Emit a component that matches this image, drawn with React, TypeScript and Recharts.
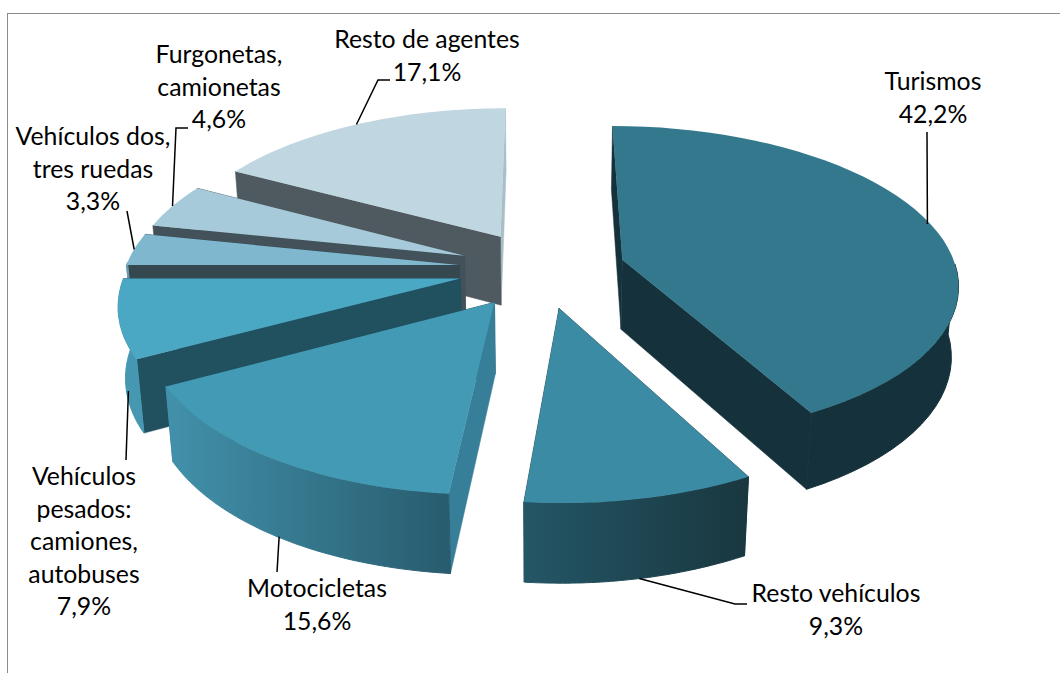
import React from "react";
import { PieChart, Pie } from "recharts";

// Data (listed back-to-front so later slices paint over earlier ones)
const CATEGORIES = ["Resto de agentes", "Furgonetas, camionetas", "Vehículos dos, tres ruedas", "Vehículos pesados: camiones, autobuses", "Motocicletas", "Resto vehículos", "Turismos"];
const VALUES = [17.1, 4.6, 3.3, 7.9, 15.6, 9.3, 42.2];
const LABEL_LINES = [
  ["Resto de agentes"],
  ["Furgonetas,", "camionetas"],
  ["Vehículos dos,", "tres ruedas"],
  ["Vehículos", "pesados:", "camiones,", "autobuses"],
  ["Motocicletas"],
  ["Resto vehículos"],
  ["Turismos"],
];
const DATA = CATEGORIES.map((name, i) => ({ name, value: VALUES[i] }));

// Styles
const TOP = ["#C0D7E2", "#A6CADA", "#7FB8CE", "#4AA8C5", "#429AB5", "#3C8BA5", "#33788C"];
const WALL_START = ["#A9BEC8", "#43525A", "#36484F", "#21505F", "#21505F", "#19373F", "#15323C"];
const WALL_END = ["#4F5A60", "#43525A", "#36484F", "#21505F", "#377F98", "#19373F", "#15323C"];
const OUTER_LEFT = ["#A9BEC8", "#8AA8B6", "#6A9CB0", "#4597B2", "#4291AB", "#245666", "#15323C"];
const OUTER_RIGHT = ["#A9BEC8", "#8AA8B6", "#6A9CB0", "#4597B2", "#285C6E", "#19373F", "#15323C"];

// Projection settings
const CX = 542, CY = 269, RX = 334, Y_RATIO = 0.464, PERSPECTIVE = 0.141, EXPLODE = 0.25;
const WALL = 70, NADIR = 4100;
const RAD = Math.PI / 180;

function project(angle: number, mid: number, r: number, cx: number, cy: number, rx: number) {
  const wx = EXPLODE * Math.cos(mid * RAD) + r * Math.cos(angle * RAD);
  const wy = -EXPLODE * Math.sin(mid * RAD) - r * Math.sin(angle * RAD);
  const s = 1 / (1 - PERSPECTIVE * wy);
  const x = cx + rx * wx * s;
  const y = cy + rx * Y_RATIO * wy * s;
  const h = WALL * Math.pow(s, 0.7);
  return { x, y, bx: x + ((cx - x) * h) / NADIR, by: y + h };
}
const toPath = (pts: number[][]) => pts.map((p, i) => `${i ? "L" : "M"}${p[0].toFixed(1)},${p[1].toFixed(1)}`).join(" ") + " Z";

function Slice3D(props: any) {
  const { cx, cy, outerRadius, startAngle, endAngle, midAngle, name } = props;
  const i = CATEGORIES.indexOf(name);
  const n = 48;
  const angles = Array.from({ length: n + 1 }, (_, k) => startAngle + ((endAngle - startAngle) * k) / n);
  const arc = angles.map((a) => project(a, midAngle, 1, cx, cy, outerRadius));
  const front = angles.filter((a) => Math.sin(a * RAD) <= 0.02).map((a) => project(a, midAngle, 1, cx, cy, outerRadius));
  const apex = project(midAngle, midAngle, 0, cx, cy, outerRadius);
  const first = arc[0], last = arc[n];
  const top = [[apex.x, apex.y], ...arc.map((p) => [p.x, p.y])];
  const outer = [...front.map((p) => [p.x, p.y]), ...[...front].reverse().map((p) => [p.bx, p.by])];
  const xs = (front.length ? front : arc).map((p) => p.x);
  const gid = `outer-${i}`;
  const flat = OUTER_LEFT[i] === OUTER_RIGHT[i];
  const outerPaint = flat ? OUTER_LEFT[i] : `url(#${gid})`;
  return (
    <g>
      <defs>
        <linearGradient id={gid} gradientUnits="userSpaceOnUse" x1={Math.min(...xs)} x2={Math.max(...xs)} y1={0} y2={0}>
          <stop offset="0" stopColor={OUTER_LEFT[i]} />
          <stop offset="1" stopColor={OUTER_RIGHT[i]} />
        </linearGradient>
      </defs>
      <path d={toPath([[apex.x, apex.y], [first.x, first.y], [first.bx, first.by], [apex.bx, apex.by]])} fill={WALL_START[i]} stroke={WALL_START[i]} strokeWidth={0.5} />
      <path d={toPath([[apex.x, apex.y], [last.x, last.y], [last.bx, last.by], [apex.bx, apex.by]])} fill={WALL_END[i]} stroke={WALL_END[i]} strokeWidth={0.5} />
      {front.length > 1 && <path d={toPath(outer)} fill={outerPaint} stroke={outerPaint} strokeWidth={1} />}
      <path d={toPath(top)} fill={TOP[i]} />
    </g>
  );
}

// Label layout: text centre x, centre y of first line, elbow points, and whether leader starts at wall bottom
const LABEL_X = [427, 219, 93, 84, 317, 836, 933];
const LABEL_Y = [40, 55, 137, 477, 589, 594, 82];
const LINE_GAP = 32.6;
const ELBOWS: number[][][] = [
  [[378, 80], [390, 80]],
  [[176, 128], [188, 128]],
  [[127, 211]],
  [[126, 460]],
  [[277, 572]],
  [[735, 604], [747, 604]],
  [[927, 132]],
];
const FROM_BOTTOM = [false, false, false, true, true, true, false];
const LEADER_DX = [0, 0, 0, 2, 2, 0, -3];

function renderLabel(props: any) {
  const { cx, cy, outerRadius, midAngle, name, value } = props;
  const i = CATEGORIES.indexOf(name);
  const a = project(midAngle, midAngle, 1, cx, cy, outerRadius);
  const start = FROM_BOTTOM[i] ? [a.bx + LEADER_DX[i], a.by] : [a.x + LEADER_DX[i], a.y];
  const lines = [...LABEL_LINES[i], `${Number(value).toFixed(1).replace(".", ",")}%`];
  const pts = [start, ...ELBOWS[i]].map((p) => p.join(",")).join(" ");
  return (
    <g key={name}>
      <polyline points={pts} fill="none" stroke="#000" strokeWidth={1.5} />
      <text x={LABEL_X[i]} y={LABEL_Y[i]} textAnchor="middle" fontFamily="Lato, sans-serif" fontSize={24.8} fill="#000">
        {lines.map((t, k) => (
          <tspan key={k} x={LABEL_X[i]} y={LABEL_Y[i] + 8 + k * LINE_GAP}>{t}</tspan>
        ))}
      </text>
    </g>
  );
}

export default function App() {
  return (
    <div style={{ position: "fixed", left: 0, top: 0, width: 1060, height: 673, background: "#fff", overflow: "hidden" }}>
      <div style={{ position: "absolute", left: 7, top: 13, width: 1060, height: 670, borderLeft: "1.5px solid #8c8c8c", borderTop: "1.5px solid #8c8c8c" }} />
      <div style={{ position: "absolute", left: 0, top: 0 }}>
        <PieChart width={1060} height={673} margin={{ top: 0, right: 0, bottom: 0, left: 0 }}>
          <Pie
            data={DATA}
            dataKey="value"
            nameKey="name"
            cx={CX}
            cy={CY}
            innerRadius={0}
            outerRadius={RX}
            startAngle={90}
            endAngle={450}
            isAnimationActive={false}
            shape={Slice3D}
            label={renderLabel}
            labelLine={false}
          />
        </PieChart>
      </div>
    </div>
  );
}
